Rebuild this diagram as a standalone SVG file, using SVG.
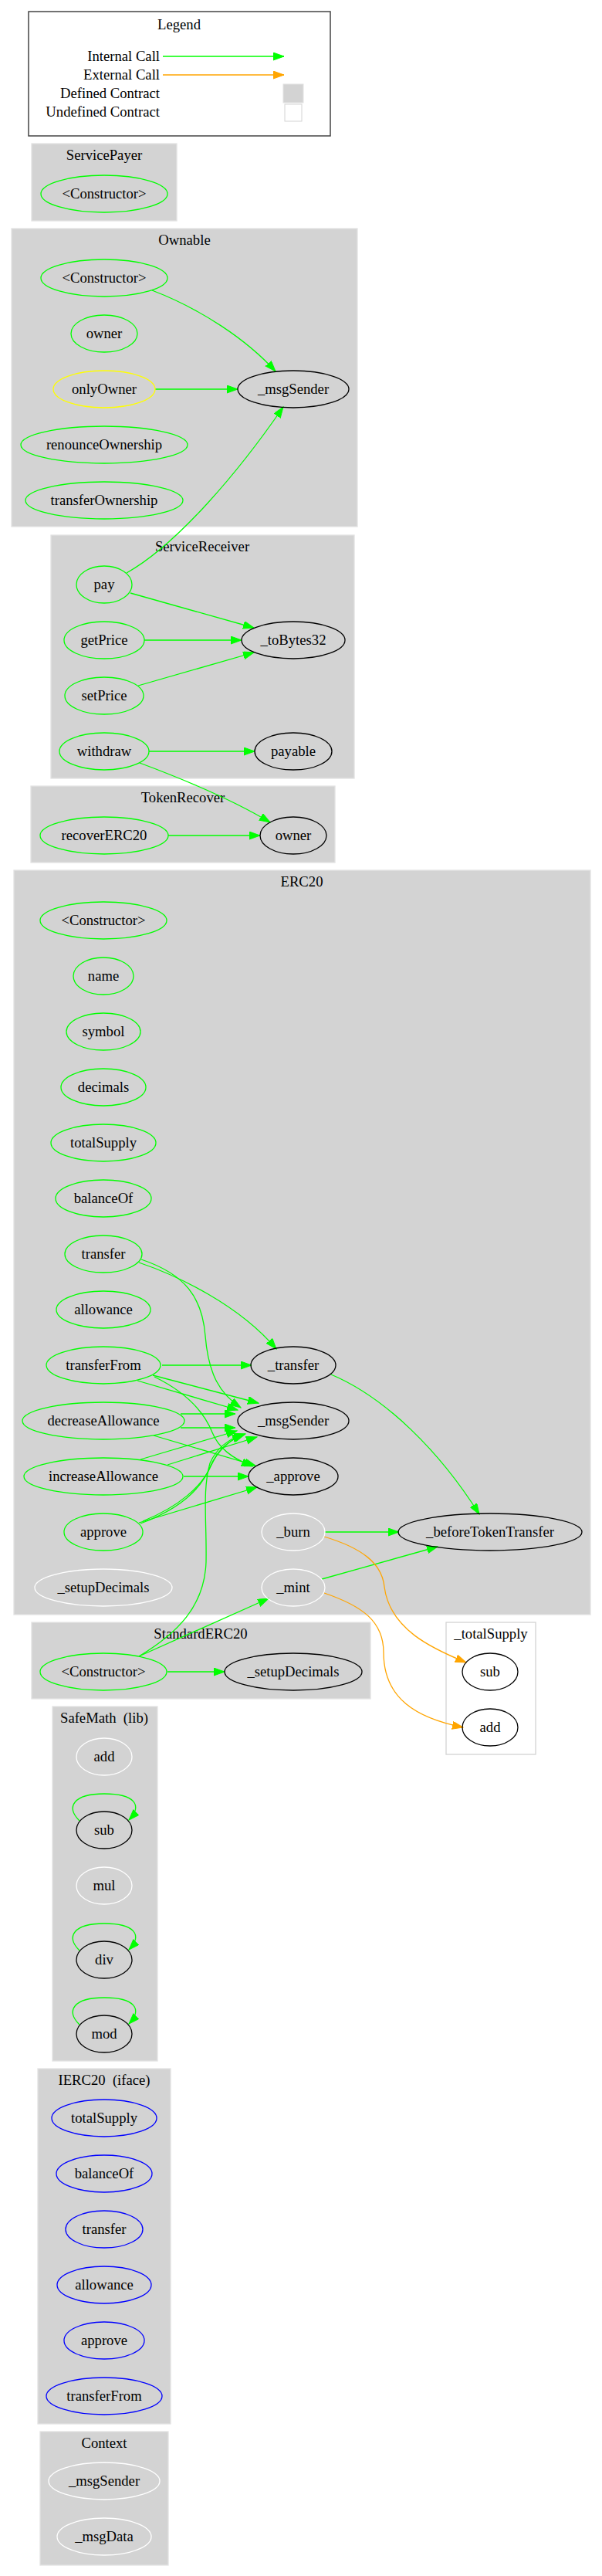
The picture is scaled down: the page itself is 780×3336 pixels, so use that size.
<svg xmlns="http://www.w3.org/2000/svg" width="780" height="3336" viewBox="0 0 780 3336">
<defs>
<style>
text{font-family:"Liberation Serif","Times New Roman",serif;font-size:18.67px;fill:#000;text-anchor:middle}
.cl{fill:#d3d3d3;stroke:#e2e2e2;stroke-width:1.3}
.clw{fill:#fff;stroke:#d3d3d3;stroke-width:1.3}
.g{fill:none;stroke:#00ff00;stroke-width:1.3}
.b{fill:none;stroke:#000;stroke-width:1.3}
.w{fill:none;stroke:#fff;stroke-width:1.3}
.y{fill:none;stroke:#ffff00;stroke-width:1.3}
.u{fill:none;stroke:#0000ff;stroke-width:1.3}
.e{fill:none;stroke:#00ff00;stroke-width:1.3;marker-end:url(#ag)}
.o{fill:none;stroke:#ffa500;stroke-width:1.3;marker-end:url(#ao)}
</style>
<marker id="ag" markerUnits="userSpaceOnUse" markerWidth="15" markerHeight="11" refX="14" refY="5" orient="auto"><path d="M0,0 L14,5 L0,10 z" fill="#00ff00" stroke="#00ff00" stroke-width="1"/></marker>
<marker id="ao" markerUnits="userSpaceOnUse" markerWidth="15" markerHeight="11" refX="14" refY="5" orient="auto"><path d="M0,0 L14,5 L0,10 z" fill="#ffa500" stroke="#ffa500" stroke-width="1"/></marker>
</defs>
<rect width="780" height="3336" fill="#fff"/>

<g id="legend">
<rect x="37" y="15" width="391" height="161" fill="#fff" stroke="#444" stroke-width="1.5"/>
<text x="232" y="38">Legend</text>
<text x="207" y="79" style="text-anchor:end">Internal Call</text>
<text x="207" y="103" style="text-anchor:end">External Call</text>
<text x="207" y="127" style="text-anchor:end">Defined Contract</text>
<text x="207" y="151" style="text-anchor:end">Undefined Contract</text>
<path class="e" d="M211,73 L368,73"/>
<path class="o" d="M211,97 L368,97"/>
<rect x="367" y="109" width="26" height="24" fill="#d3d3d3" stroke="#e2e2e2"/>
<rect x="369" y="135" width="22" height="22" fill="#fff" stroke="#d3d3d3"/>
</g>

<g id="clusters">
<rect class="cl" x="41" y="186" width="188" height="100"/>
<text x="135" y="207">ServicePayer</text>
<rect class="cl" x="15" y="296" width="448" height="386"/>
<text x="239" y="317">Ownable</text>
<rect class="cl" x="66" y="693" width="393" height="315"/>
<text x="262" y="714">ServiceReceiver</text>
<rect class="cl" x="40" y="1018" width="394" height="99"/>
<text x="237" y="1039">TokenRecover</text>
<rect class="cl" x="18" y="1127" width="747" height="964"/>
<text x="391" y="1148">ERC20</text>
<rect class="cl" x="41" y="2101" width="439" height="99"/>
<text x="260" y="2122">StandardERC20</text>
<rect class="clw" x="578" y="2101" width="116" height="171"/>
<text x="636" y="2122">_totalSupply</text>
<rect class="cl" x="68" y="2210" width="136" height="459"/>
<text x="135" y="2231" xml:space="preserve">SafeMath  (lib)</text>
<rect class="cl" x="49" y="2679" width="172" height="460"/>
<text x="135" y="2700" xml:space="preserve">IERC20  (iface)</text>
<rect class="cl" x="52" y="3149" width="166" height="173"/>
<text x="135" y="3170">Context</text>
</g>

<g id="connectors">
<path class="e" d="M197,376 C260,400 320,440 357,481"/>
<path class="e" d="M201,504 L308,504"/>
<path class="e" d="M164,742 C230,705 310,610 367,527"/>
<path class="e" d="M169,768 L329,813"/>
<path class="e" d="M187,829 L313,829"/>
<path class="e" d="M179,888 L329,845"/>
<path class="e" d="M193,973 L330,973"/>
<path class="e" d="M181,988 C240,1010 300,1035 350,1065"/>
<path class="e" d="M218,1082 L337,1082"/>

<path class="e" d="M180,1635 C230,1652 310,1690 358,1747"/>
<path class="e" d="M183,1631 C240,1650 262,1680 266,1730 C270,1780 285,1805 312,1823"/>
<path class="e" d="M210,1768 L326,1768"/>
<path class="e" d="M198,1781 L335,1817"/>
<path class="e" d="M178,1788 L308,1826"/>
<path class="e" d="M200,1783 C245,1805 265,1830 275,1855 C283,1875 300,1888 327,1899"/>
<path class="e" d="M234,1831 L305,1831"/>
<path class="e" d="M234,1849 L305,1849"/>
<path class="e" d="M199,1859 L331,1898"/>
<path class="e" d="M182,1890 L307,1853"/>
<path class="e" d="M217,1897 L333,1861"/>
<path class="e" d="M238,1912 L322,1912"/>
<path class="e" d="M180,1972 L333,1926"/>
<path class="e" d="M182,1973 C230,1955 260,1930 272,1900 C282,1878 295,1866 315,1858"/>
<path class="e" d="M185,1970 C232,1951 262,1925 274,1897 C284,1876 298,1864 318,1857"/>
<path class="e" d="M429,1780 C500,1810 570,1880 621,1961"/>
<path class="e" d="M421,1984 L517,1984"/>
<path class="e" d="M417,2045 L567,2003"/>
<path class="o" d="M420,1990 C470,2005 495,2025 498,2055 C505,2110 560,2135 604,2153"/>
<path class="o" d="M420,2063 C470,2080 497,2100 497,2140 C497,2200 540,2225 600,2237"/>
<path class="e" d="M180,2145 C230,2115 265,2080 267,2023 C268,1970 262,1930 272,1895 C282,1872 300,1862 317,1857"/>
<path class="e" d="M180,2145 L348,2070"/>
<path class="e" d="M217,2165 L291,2165"/>

<path class="e" d="M103,2358 C85,2340 95,2323 135,2323 C175,2323 185,2338 167,2357"/>
<path class="e" d="M103,2526 C85,2508 95,2491 135,2491 C175,2491 185,2506 167,2525"/>
<path class="e" d="M103,2622 C85,2604 95,2587 135,2587 C175,2587 185,2602 167,2621"/>
</g>

<g id="ServicePayer_Constructor"><ellipse class="g" cx="135" cy="251" rx="82" ry="24"/><text x="135" y="257">&lt;Constructor&gt;</text></g>

<g id="Ownable_Constructor"><ellipse class="g" cx="135" cy="360" rx="82" ry="24"/><text x="135" y="366">&lt;Constructor&gt;</text></g>
<g id="Ownable_owner"><ellipse class="g" cx="135" cy="432" rx="43" ry="24"/><text x="135" y="438">owner</text></g>
<g id="Ownable_onlyOwner"><ellipse class="y" cx="135" cy="504" rx="66" ry="24"/><text x="135" y="510">onlyOwner</text></g>
<g id="Ownable_renounceOwnership"><ellipse class="g" cx="135" cy="576" rx="108" ry="24"/><text x="135" y="582">renounceOwnership</text></g>
<g id="Ownable_transferOwnership"><ellipse class="g" cx="135" cy="648" rx="102" ry="24"/><text x="135" y="654">transferOwnership</text></g>
<g id="Ownable_msgSender"><ellipse class="b" cx="380" cy="504" rx="72" ry="24"/><text x="380" y="510">_msgSender</text></g>

<g id="SR_pay"><ellipse class="g" cx="135" cy="757" rx="36" ry="24"/><text x="135" y="763">pay</text></g>
<g id="SR_getPrice"><ellipse class="g" cx="135" cy="829" rx="52" ry="24"/><text x="135" y="835">getPrice</text></g>
<g id="SR_setPrice"><ellipse class="g" cx="135" cy="901" rx="51" ry="24"/><text x="135" y="907">setPrice</text></g>
<g id="SR_withdraw"><ellipse class="g" cx="135" cy="973" rx="58" ry="24"/><text x="135" y="979">withdraw</text></g>
<g id="SR_toBytes32"><ellipse class="b" cx="380" cy="829" rx="67" ry="24"/><text x="380" y="835">_toBytes32</text></g>
<g id="SR_payable"><ellipse class="b" cx="380" cy="973" rx="50" ry="24"/><text x="380" y="979">payable</text></g>

<g id="TR_recoverERC20"><ellipse class="g" cx="135" cy="1082" rx="83" ry="24"/><text x="135" y="1088">recoverERC20</text></g>
<g id="TR_owner"><ellipse class="b" cx="380" cy="1082" rx="43" ry="24"/><text x="380" y="1088">owner</text></g>

<g id="ERC20_Constructor"><ellipse class="g" cx="134" cy="1192" rx="82" ry="24"/><text x="134" y="1198">&lt;Constructor&gt;</text></g>
<g id="ERC20_name"><ellipse class="g" cx="134" cy="1264" rx="39" ry="24"/><text x="134" y="1270">name</text></g>
<g id="ERC20_symbol"><ellipse class="g" cx="134" cy="1336" rx="48" ry="24"/><text x="134" y="1342">symbol</text></g>
<g id="ERC20_decimals"><ellipse class="g" cx="134" cy="1408" rx="55" ry="24"/><text x="134" y="1414">decimals</text></g>
<g id="ERC20_totalSupply"><ellipse class="g" cx="134" cy="1480" rx="68" ry="24"/><text x="134" y="1486">totalSupply</text></g>
<g id="ERC20_balanceOf"><ellipse class="g" cx="134" cy="1552" rx="62" ry="24"/><text x="134" y="1558">balanceOf</text></g>
<g id="ERC20_transfer"><ellipse class="g" cx="134" cy="1624" rx="50" ry="24"/><text x="134" y="1630">transfer</text></g>
<g id="ERC20_allowance"><ellipse class="g" cx="134" cy="1696" rx="61" ry="24"/><text x="134" y="1702">allowance</text></g>
<g id="ERC20_transferFrom"><ellipse class="g" cx="134" cy="1768" rx="74" ry="24"/><text x="134" y="1774">transferFrom</text></g>
<g id="ERC20_decreaseAllowance"><ellipse class="g" cx="134" cy="1840" rx="105" ry="24"/><text x="134" y="1846">decreaseAllowance</text></g>
<g id="ERC20_increaseAllowance"><ellipse class="g" cx="134" cy="1912" rx="103" ry="24"/><text x="134" y="1918">increaseAllowance</text></g>
<g id="ERC20_approve"><ellipse class="g" cx="134" cy="1984" rx="51" ry="24"/><text x="134" y="1990">approve</text></g>
<g id="ERC20_setupDecimals"><ellipse class="w" cx="134" cy="2056" rx="89" ry="24"/><text x="134" y="2062">_setupDecimals</text></g>
<g id="ERC20__transfer"><ellipse class="b" cx="380" cy="1768" rx="55" ry="24"/><text x="380" y="1774">_transfer</text></g>
<g id="ERC20__msgSender"><ellipse class="b" cx="380" cy="1840" rx="72" ry="24"/><text x="380" y="1846">_msgSender</text></g>
<g id="ERC20__approve"><ellipse class="b" cx="380" cy="1912" rx="58" ry="24"/><text x="380" y="1918">_approve</text></g>
<g id="ERC20__burn"><ellipse class="w" cx="380" cy="1984" rx="41" ry="24"/><text x="380" y="1990">_burn</text></g>
<g id="ERC20__mint"><ellipse class="w" cx="380" cy="2056" rx="41" ry="24"/><text x="380" y="2062">_mint</text></g>
<g id="ERC20__beforeTokenTransfer"><ellipse class="b" cx="635" cy="1984" rx="119" ry="24"/><text x="635" y="1990">_beforeTokenTransfer</text></g>

<g id="StandardERC20_Constructor"><ellipse class="g" cx="134" cy="2165" rx="82" ry="24"/><text x="134" y="2171">&lt;Constructor&gt;</text></g>
<g id="StandardERC20_setupDecimals"><ellipse class="b" cx="380" cy="2165" rx="89" ry="24"/><text x="380" y="2171">_setupDecimals</text></g>

<g id="totalSupply_sub"><ellipse class="b" cx="635" cy="2165" rx="36" ry="24"/><text x="635" y="2171">sub</text></g>
<g id="totalSupply_add"><ellipse class="b" cx="635" cy="2237" rx="36" ry="24"/><text x="635" y="2243">add</text></g>

<g id="SafeMath_add"><ellipse class="w" cx="135" cy="2275" rx="36" ry="24"/><text x="135" y="2281">add</text></g>
<g id="SafeMath_sub"><ellipse class="b" cx="135" cy="2370" rx="36" ry="24"/><text x="135" y="2376">sub</text></g>
<g id="SafeMath_mul"><ellipse class="w" cx="135" cy="2442" rx="36" ry="24"/><text x="135" y="2448">mul</text></g>
<g id="SafeMath_div"><ellipse class="b" cx="135" cy="2538" rx="36" ry="24"/><text x="135" y="2544">div</text></g>
<g id="SafeMath_mod"><ellipse class="b" cx="135" cy="2634" rx="36" ry="24"/><text x="135" y="2640">mod</text></g>

<g id="IERC20_totalSupply"><ellipse class="u" cx="135" cy="2743" rx="68" ry="24"/><text x="135" y="2749">totalSupply</text></g>
<g id="IERC20_balanceOf"><ellipse class="u" cx="135" cy="2815" rx="62" ry="24"/><text x="135" y="2821">balanceOf</text></g>
<g id="IERC20_transfer"><ellipse class="u" cx="135" cy="2887" rx="50" ry="24"/><text x="135" y="2893">transfer</text></g>
<g id="IERC20_allowance"><ellipse class="u" cx="135" cy="2959" rx="61" ry="24"/><text x="135" y="2965">allowance</text></g>
<g id="IERC20_approve"><ellipse class="u" cx="135" cy="3031" rx="52" ry="24"/><text x="135" y="3037">approve</text></g>
<g id="IERC20_transferFrom"><ellipse class="u" cx="135" cy="3103" rx="75" ry="24"/><text x="135" y="3109">transferFrom</text></g>

<g id="Context_msgSender"><ellipse class="w" cx="135" cy="3213" rx="72" ry="24"/><text x="135" y="3219">_msgSender</text></g>
<g id="Context_msgData"><ellipse class="w" cx="135" cy="3285" rx="61" ry="24"/><text x="135" y="3291">_msgData</text></g>
</svg>
